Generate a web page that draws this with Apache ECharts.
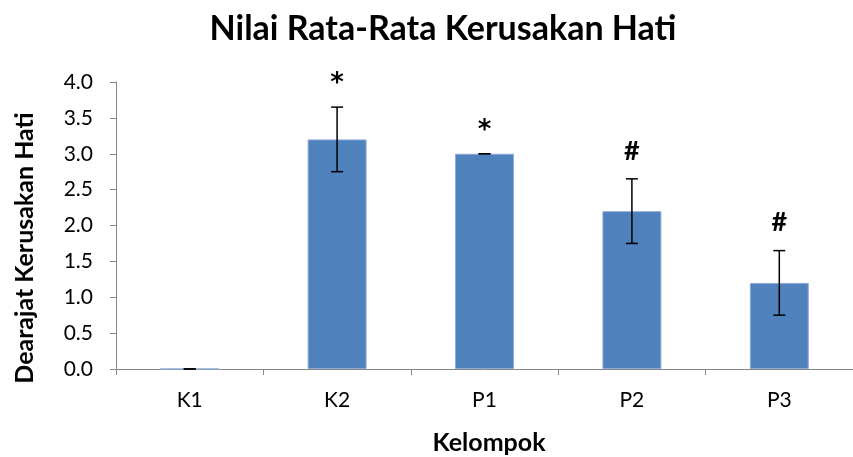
<!DOCTYPE html>
<html>
<head>
<meta charset="utf-8">
<script src="https://cdn.jsdelivr.net/npm/echarts@6/dist/echarts.min.js"></script>
<style>
  html, body { margin: 0; padding: 0; background: #ffffff; }
  #chart { width: 853px; height: 457px; }
</style>
</head>
<body>
<div id="chart"></div>
<script>
// Mean liver damage score per group, with error margins and significance marks
const categories = ['K1', 'K2', 'P1', 'P2', 'P3'];
const meanScores = [0, 3.2, 3.0, 2.2, 1.2];
const errorMargins = [0, 0.45, 0, 0.45, 0.45];
const significanceMarks = ['', '*', '*', '#', '#'];

const FONT = 'Lato, "Open Sans", sans-serif';
const AXIS_GREY = '#868686';

const chart = echarts.init(document.getElementById('chart'), null, { renderer: 'canvas' });

const errorData = categories.map((c, i) => [i, meanScores[i], errorMargins[i]]);

const option = {
  animation: false,
  backgroundColor: '#ffffff',
  title: {
    text: 'Nilai Rata-Rata Kerusakan Hati',
    left: 438,
    textAlign: 'center',
    top: 7,
    textStyle: { fontFamily: FONT, fontSize: 34, fontWeight: 'bold', color: '#000' }
  },
  grid: { left: 116, right: -8, top: 82, bottom: 88, containLabel: false },
  xAxis: {
    type: 'category',
    data: categories,
    axisLine: { lineStyle: { color: AXIS_GREY, width: 1 } },
    axisTick: { show: true, length: 6, interval: 0, lineStyle: { color: AXIS_GREY } },
    axisLabel: { fontFamily: FONT, fontSize: 21, color: '#000', margin: 21 },
    splitLine: { show: false }
  },
  yAxis: {
    type: 'value',
    min: 0,
    max: 4,
    interval: 0.5,
    axisLine: { show: true, lineStyle: { color: AXIS_GREY, width: 1 } },
    axisTick: { show: true, length: 6, lineStyle: { color: AXIS_GREY } },
    axisLabel: {
      fontFamily: FONT, fontSize: 21, color: '#000', margin: 23,
      formatter: v => v.toFixed(1)
    },
    splitLine: { show: false }
  },
  graphic: [
    {
      type: 'text',
      x: 25, y: 248,
      rotation: Math.PI / 2,
      style: {
        text: 'Dearajat Kerusakan Hati',
        fontFamily: FONT, fontSize: 25, fontWeight: 'bold', fill: '#000',
        align: 'center', verticalAlign: 'middle'
      }
    },
    {
      type: 'text',
      x: 489, y: 443,
      style: {
        text: 'Kelompok',
        fontFamily: FONT, fontSize: 25, fontWeight: 'bold', fill: '#000',
        align: 'center', verticalAlign: 'middle'
      }
    }
  ],
  series: [
    {
      type: 'bar',
      data: meanScores,
      barWidth: '40%',
      itemStyle: { color: '#4F81BD', borderColor: '#8EABD5', borderWidth: 1 },
      z: 2
    },
    {
      type: 'custom',
      data: errorData,
      z: 5,
      renderItem: function (params, api) {
        const i = api.value(0);
        const mean = api.value(1);
        const err = api.value(2);
        const top = api.coord([i, mean + err]);
        const bot = api.coord([i, mean - err]);
        const x = top[0];
        const cap = 6;
        const stroke = { stroke: '#000', lineWidth: 1.5 };
        const children = [
          { type: 'line', shape: { x1: x, y1: top[1], x2: x, y2: bot[1] }, style: stroke },
          { type: 'line', shape: { x1: x - cap, y1: top[1], x2: x + cap, y2: top[1] }, style: stroke },
          { type: 'line', shape: { x1: x - cap, y1: bot[1], x2: x + cap, y2: bot[1] }, style: stroke }
        ];
        const mark = significanceMarks[params.dataIndex];
        if (mark === '*') {
          // the asterisk glyph sits high in its box, so it is nudged down
          children.push({
            type: 'text',
            x: x, y: top[1] - 30 + 7,
            style: {
              text: mark,
              fontFamily: '"DejaVu Sans", sans-serif', fontSize: 26, fontWeight: 'bold', fill: '#000',
              align: 'center', verticalAlign: 'middle'
            }
          });
        } else if (mark) {
          children.push({
            type: 'text',
            x: x, y: top[1] - 28,
            style: {
              text: mark,
              fontFamily: FONT, fontSize: 27, fontWeight: 'bold', fill: '#000',
              align: 'center', verticalAlign: 'middle'
            }
          });
        }
        return { type: 'group', children: children };
      }
    }
  ]
};

chart.setOption(option);
</script>
</body>
</html>
